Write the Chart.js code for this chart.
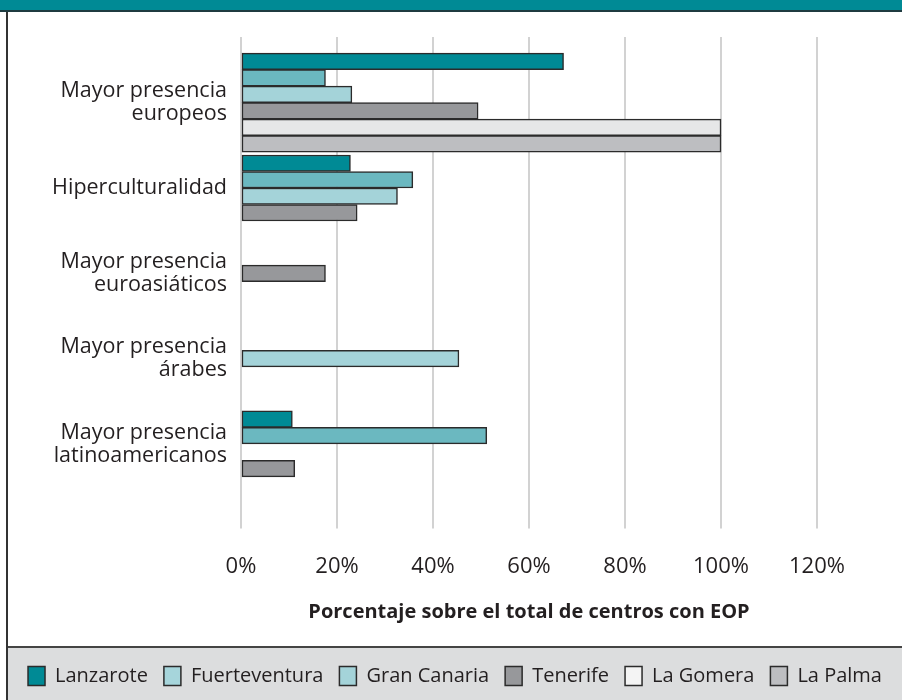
<!DOCTYPE html>
<html>
<head>
<meta charset="utf-8">
<script src="https://cdn.jsdelivr.net/npm/chart.js@4.4.1/dist/chart.umd.min.js"></script>
<style>
  body { margin: 0; background: #fff; width: 902px; height: 700px; overflow: hidden; }
  .topBar { height: 10px; background: #008a95; border-bottom: 2px solid #1f3b40; }
  .box { margin-left: 6px; border-left: 2px solid #333; width: 894px; height: 688px; background: #dcddde; }
  canvas { display: block; }
</style>
</head>
<body>
<div class="topBar"></div>
<div class="box"><canvas id="eopChart" width="894" height="688"></canvas></div>

<script>
/* ------------------------------
   DATA
--------------------------------*/

const categories = [
    ["Mayor presencia", "europeos"],
    "Hiperculturalidad",
    ["Mayor presencia", "euroasiáticos"],
    ["Mayor presencia", "árabes"],
    ["Mayor presencia", "latinoamericanos"]
];

const islands = ["Lanzarote", "Fuerteventura", "Gran Canaria", "Tenerife", "La Gomera", "La Palma"];

const lanzarote     = [67.2, 22.8, null, null, 10.7];
const fuerteventura = [17.6, 35.8, null, null, 51.2];
const granCanaria   = [23.1, 32.6, null, 45.4, 0];
const tenerife      = [49.4, 24.2, 17.6, null, 11.2];
const laGomera      = [100, null, null, null, null];
const laPalma       = [100, null, null, null, null];

const tickValues = [0, 20, 40, 60, 80, 100, 120];
const axisTitle = "Porcentaje sobre el total de centros con EOP";

/* ------------------------------
   STYLES
--------------------------------*/

const barColors    = ["#008a95", "#6bb8c0", "#a4d3d9", "#97989b", "#e6e7e8", "#bdbec1"];
const legendColors = ["#008a95", "#a6d5db", "#a4d3d9", "#97989b", "#f4f4f4", "#bdbec1"];
const seriesValues = [lanzarote, fuerteventura, granCanaria, tenerife, laGomera, laPalma];

const FONT = "'Open Sans', 'Noto Sans', sans-serif";
const GRID = "#d2d2d2";

// gray band behind the legend + separator line
const legendBand = {
    id: "legendBand",
    beforeDraw(chart) {
        const ctx = chart.ctx;
        const top = chart.legend.top - 3;
        ctx.save();
        ctx.fillStyle = "#ffffff";
        ctx.fillRect(0, 0, chart.width, top);
        ctx.fillStyle = "#dcddde";
        ctx.fillRect(0, top, chart.width, chart.height - top);
        ctx.strokeStyle = "#444";
        ctx.lineWidth = 2;
        ctx.beginPath();
        ctx.moveTo(0, top);
        ctx.lineTo(chart.width, top);
        ctx.stroke();
        ctx.restore();
    }
};

/* ------------------------------
   CHART
--------------------------------*/

let eopChart = new Chart(document.getElementById("eopChart"), {
    type: "bar",
    data: {
        labels: categories,
        datasets: islands.map((name, i) => ({
            label: name,
            data: seriesValues[i],
            backgroundColor: barColors[i],
            borderColor: "#2b2b2b",
            borderWidth: 1.5,
            borderSkipped: false,
            barThickness: 16.5,
            skipNull: true,
            clip: false
        }))
    },
    options: {
        indexAxis: "y",
        responsive: false,
        animation: false,
        layout: { padding: { top: 25, right: 0, left: 0, bottom: 4 } },
        scales: {
            x: {
                position: "bottom",
                min: tickValues[0],
                max: tickValues[tickValues.length - 1],
                afterBuildTicks: s => { s.ticks = tickValues.map(v => ({ value: v })); },
                grid: { color: GRID, lineWidth: 2, drawTicks: true, tickLength: 42 },
                border: { display: false },
                ticks: {
                    padding: 25,
                    color: "#231f20",
                    font: { family: FONT, size: 22 },
                    callback: v => v + "%"
                },
                title: {
                    display: true,
                    text: axisTitle,
                    color: "#231f20",
                    font: { family: FONT, size: 20, weight: "bold" },
                    padding: { top: -5, bottom: 26 }
                }
            },
            xTop: {
                position: "top",
                type: "linear",
                min: tickValues[0],
                max: tickValues[tickValues.length - 1],
                afterBuildTicks: s => { s.ticks = tickValues.map(v => ({ value: v })); },
                grid: { color: GRID, lineWidth: 2, drawOnChartArea: false, drawTicks: true, tickLength: 23 },
                border: { display: false },
                ticks: { display: false }
            },
            y: {
                grid: { display: false },
                border: { display: false },
                afterFit: s => { s.width = 233; },
                ticks: {
                    padding: 6,
                    color: "#231f20",
                    font: { family: FONT, size: 21.5, lineHeight: 1.07 }
                }
            },
            // empty right-hand strip so the plot stops at 120%
            yRight: {
                position: "right",
                type: "linear",
                grid: { display: false },
                border: { display: false },
                ticks: { display: false },
                afterFit: s => { s.width = 85; }
            }
        },
        plugins: {
            legend: {
                position: "bottom",
                labels: {
                    boxWidth: 17,
                    boxHeight: 19,
                    padding: 16,
                    color: "#231f20",
                    font: { family: FONT, size: 20 },
                    generateLabels: chart => {
                        const items = Chart.defaults.plugins.legend.labels.generateLabels(chart);
                        items.forEach((it, i) => {
                            it.fillStyle = legendColors[i];
                            it.strokeStyle = "#2b2b2b";
                            it.lineWidth = 1.5;
                        });
                        return items;
                    }
                }
            },
            tooltip: { enabled: false }
        }
    },
    plugins: [legendBand]
});
</script>
</body>
</html>
